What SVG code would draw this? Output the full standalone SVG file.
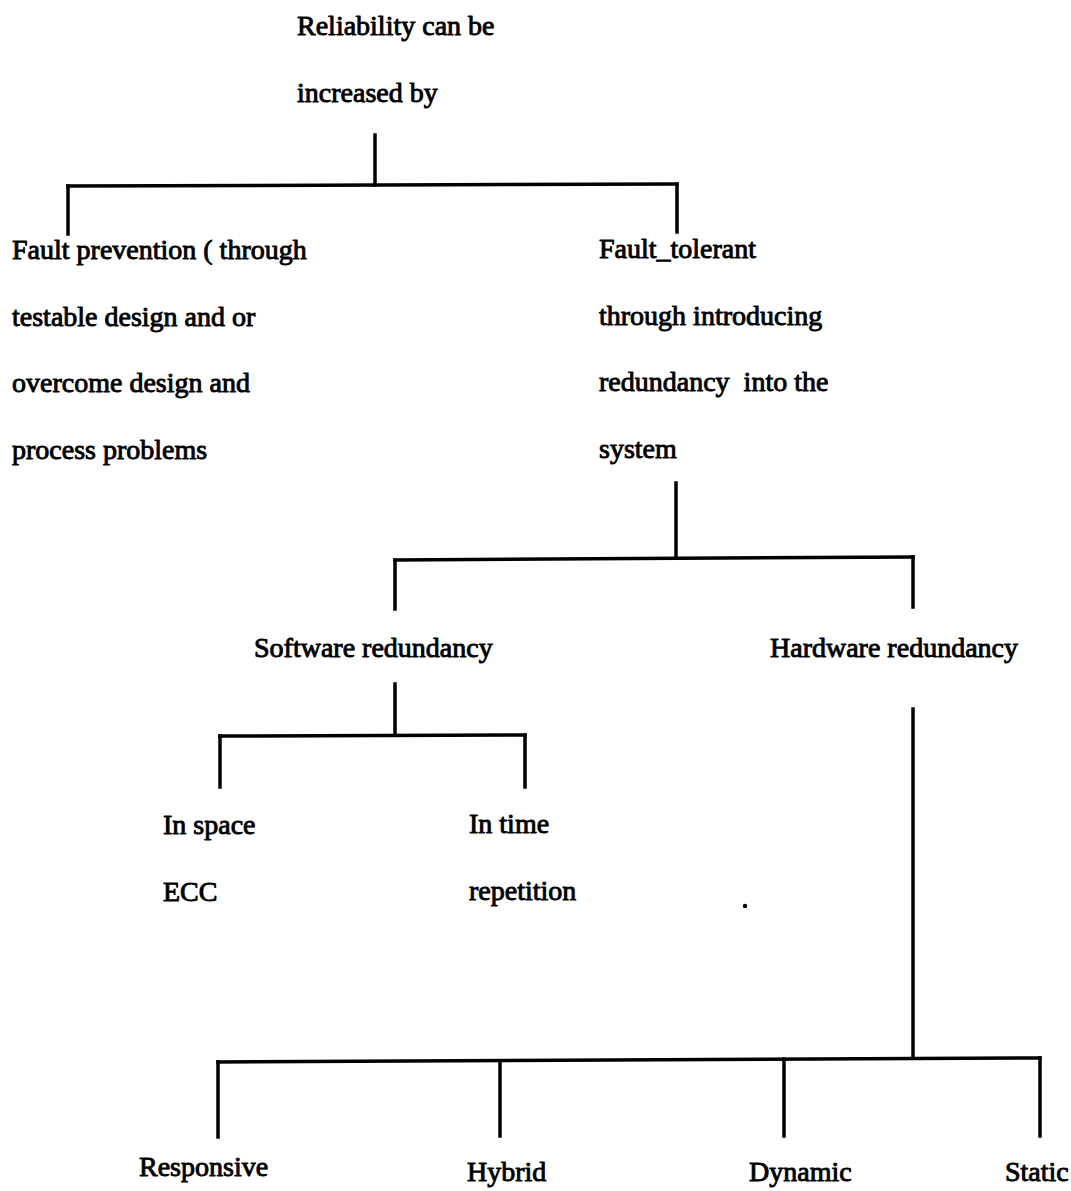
<svg xmlns="http://www.w3.org/2000/svg" width="1071" height="1191" viewBox="0 0 1071 1191">
  <style>
    .t { font-family: "Liberation Serif", "Times New Roman", serif; font-size: 28px; fill: #000; stroke: #000; stroke-width: 0.9px; stroke-linejoin: round; }
    .c { stroke: #000; stroke-width: 3.5; fill: none; stroke-linecap: square; }
  </style>
  <rect width="1071" height="1191" fill="#fff"/>

  <g id="connectors">
    <!-- root to first level -->
    <path class="c" d="M375,135 V185"/>
    <path class="c" d="M68,186 L677,184"/>
    <path class="c" d="M68,186 V234"/>
    <path class="c" d="M677,184 V232"/>
    <!-- fault tolerant to software / hardware -->
    <path class="c" d="M676,483 V557"/>
    <path class="c" d="M395,560 L913,557"/>
    <path class="c" d="M395,560 V609"/>
    <path class="c" d="M913,557 V607"/>
    <!-- software redundancy split -->
    <path class="c" d="M395,684 V734"/>
    <path class="c" d="M220,736 L525,735"/>
    <path class="c" d="M220,736 V787"/>
    <path class="c" d="M525,735 V787"/>
    <!-- hardware redundancy split -->
    <path class="c" d="M913,709 V1057"/>
    <path class="c" d="M218,1062 L1040,1058"/>
    <path class="c" d="M218,1062 V1137"/>
    <path class="c" d="M500,1061 V1136"/>
    <path class="c" d="M784,1059 V1136"/>
    <path class="c" d="M1040,1058 V1136"/>
  </g>

  <g id="root">
    <text class="t" x="297" y="35">Reliability can be</text>
    <text class="t" x="297" y="102">increased by</text>
  </g>

  <g id="fault-prevention">
    <text class="t" x="12" y="259">Fault prevention ( through</text>
    <text class="t" x="12" y="326">testable design and or</text>
    <text class="t" x="12" y="392">overcome design and</text>
    <text class="t" x="12" y="459">process problems</text>
  </g>

  <g id="fault-tolerant">
    <text class="t" x="599" y="258">Fault_tolerant</text>
    <text class="t" x="599" y="325">through introducing</text>
    <text class="t" x="599" y="391" xml:space="preserve">redundancy  into the</text>
    <text class="t" x="599" y="458">system</text>
  </g>

  <g id="software-redundancy">
    <text class="t" x="254" y="657">Software redundancy</text>
  </g>

  <g id="hardware-redundancy">
    <text class="t" x="770" y="657">Hardware redundancy</text>
  </g>

  <g id="in-space">
    <text class="t" x="163" y="834">In space</text>
    <text class="t" x="163" y="901">ECC</text>
  </g>

  <g id="in-time">
    <text class="t" x="469" y="833">In time</text>
    <text class="t" x="469" y="900">repetition</text>
  </g>

  <circle cx="745" cy="906" r="2.2" fill="#000"/>

  <g id="responsive">
    <text class="t" x="139" y="1176">Responsive</text>
  </g>
  <g id="hybrid">
    <text class="t" x="467" y="1181">Hybrid</text>
  </g>
  <g id="dynamic">
    <text class="t" x="749" y="1181">Dynamic</text>
  </g>
  <g id="static">
    <text class="t" x="1005" y="1181">Static</text>
  </g>
</svg>
